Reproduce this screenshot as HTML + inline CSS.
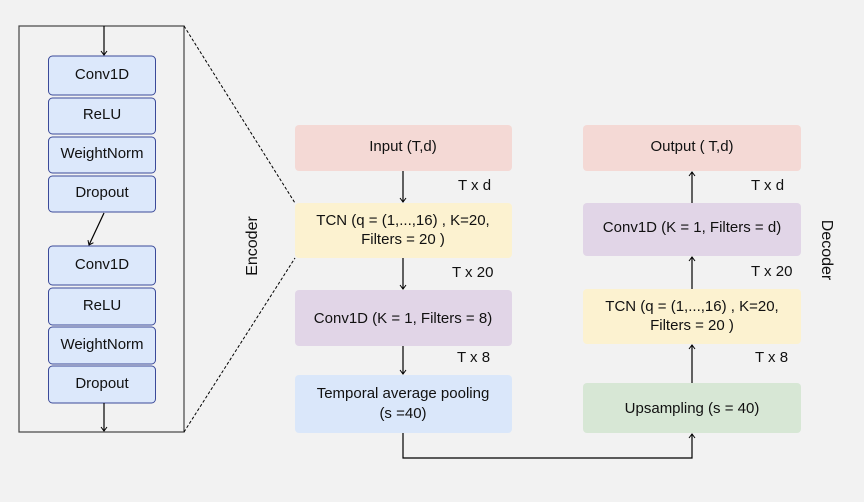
<!DOCTYPE html>
<html><head><meta charset="utf-8"><style>
html,body{margin:0;padding:0;background:#f2f2f2;}
svg{display:block;font-family:"Liberation Sans",Arial,sans-serif;}
</style></head><body>
<svg width="864" height="502" viewBox="0 0 864 502" xmlns="http://www.w3.org/2000/svg">
<defs>
<marker id="a" markerWidth="8" markerHeight="8" refX="7" refY="4" orient="auto" markerUnits="userSpaceOnUse">
<path d="M3,1 L7,4 L3,7" fill="none" stroke="#000" stroke-width="1"/>
</marker>
</defs>
<rect width="864" height="502" fill="#f2f2f2"/>
<rect x="19" y="26" width="165" height="406" fill="none" stroke="#444" stroke-width="1.2"/>
<line x1="184" y1="26" x2="295" y2="203" stroke="#000" stroke-dasharray="3,2"/>
<line x1="184" y1="432" x2="295" y2="258" stroke="#000" stroke-dasharray="3,2"/>
<g fill="#dce8fb" stroke="#3b4a99" stroke-width="1">
<rect x="48.5" y="56" width="107" height="39" rx="4"/>
<rect x="48.5" y="98" width="107" height="36" rx="4"/>
<rect x="48.5" y="137" width="107" height="36" rx="4"/>
<rect x="48.5" y="176" width="107" height="36" rx="4"/>
<rect x="48.5" y="246" width="107" height="39" rx="4"/>
<rect x="48.5" y="288" width="107" height="37" rx="4"/>
<rect x="48.5" y="327" width="107" height="37" rx="4"/>
<rect x="48.5" y="366" width="107" height="37" rx="4"/>
</g>
<g font-size="15" text-anchor="middle" fill="#111">
<text x="102" y="79">Conv1D</text>
<text x="102" y="119">ReLU</text>
<text x="102" y="158">WeightNorm</text>
<text x="102" y="197">Dropout</text>
<text x="102" y="269">Conv1D</text>
<text x="102" y="310">ReLU</text>
<text x="102" y="349">WeightNorm</text>
<text x="102" y="388">Dropout</text>
</g>
<g stroke="#000" stroke-width="1.2" marker-end="url(#a)">
<line x1="104" y1="26" x2="104" y2="55"/>
<line x1="104" y1="213" x2="89" y2="245"/>
<line x1="104" y1="403" x2="104" y2="431"/>
</g>
<rect x="295" y="125" width="217" height="46" rx="4" fill="#f4d9d5"/>
<rect x="295" y="203" width="217" height="55" rx="4" fill="#fcf2d0"/>
<rect x="295" y="290" width="217" height="56" rx="4" fill="#e1d5e7"/>
<rect x="295" y="375" width="217" height="58" rx="4" fill="#dae7fa"/>
<rect x="583" y="125" width="218" height="46" rx="4" fill="#f4d9d5"/>
<rect x="583" y="203" width="218" height="53" rx="4" fill="#e1d5e7"/>
<rect x="583" y="289" width="218" height="55" rx="4" fill="#fcf2d0"/>
<rect x="583" y="383" width="218" height="50" rx="4" fill="#d7e7d5"/>
<g font-size="15" text-anchor="middle" fill="#111">
<text x="403" y="151">Input (T,d)</text>
<text x="403" y="225">TCN (q = (1,...,16) , K=20,</text>
<text x="403" y="244">Filters = 20 )</text>
<text x="403" y="323">Conv1D (K = 1, Filters = 8)</text>
<text x="403" y="398">Temporal average pooling</text>
<text x="403" y="418">(s =40)</text>
<text x="692" y="151">Output ( T,d)</text>
<text x="692" y="232">Conv1D (K = 1, Filters = d)</text>
<text x="692" y="311">TCN (q = (1,...,16) , K=20,</text>
<text x="692" y="330">Filters = 20 )</text>
<text x="692" y="413">Upsampling (s = 40)</text>
</g>
<g font-size="15" fill="#111">
<text x="458" y="190">T x d</text>
<text x="452" y="277">T x 20</text>
<text x="457" y="362">T x 8</text>
<text x="751" y="190">T x d</text>
<text x="751" y="276">T x 20</text>
<text x="755" y="362">T x 8</text>
</g>
<text font-size="16" fill="#111" text-anchor="middle" transform="translate(257,246) rotate(-90)">Encoder</text>
<text font-size="16" fill="#111" text-anchor="middle" transform="translate(822,250) rotate(90)">Decoder</text>
<g stroke="#000" stroke-width="1.2" fill="none">
<line x1="403" y1="171" x2="403" y2="202" marker-end="url(#a)"/>
<line x1="403" y1="258" x2="403" y2="289" marker-end="url(#a)"/>
<line x1="403" y1="346" x2="403" y2="374" marker-end="url(#a)"/>
<polyline points="403,433 403,458 692,458 692,434" marker-end="url(#a)"/>
<line x1="692" y1="383" x2="692" y2="345" marker-end="url(#a)"/>
<line x1="692" y1="289" x2="692" y2="257" marker-end="url(#a)"/>
<line x1="692" y1="203" x2="692" y2="172" marker-end="url(#a)"/>
</g>
</svg>
</body></html>
